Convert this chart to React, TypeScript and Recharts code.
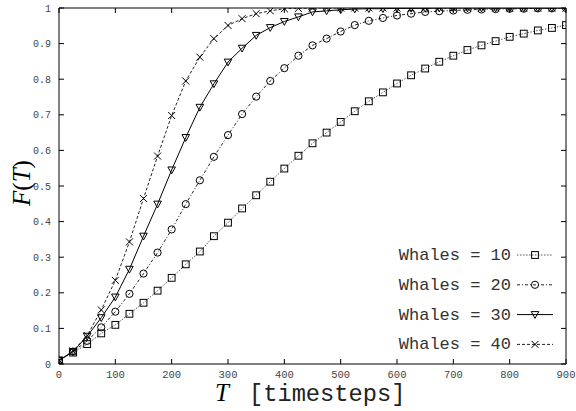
import { Legend, Line, LineChart, XAxis, YAxis } from "recharts";

const timesteps = [
  0, 25, 50, 75, 100, 125, 150, 175, 200, 225, 250, 275, 300, 325, 350, 375, 400, 425, 450,
  475, 500, 525, 550, 575, 600, 625, 650, 675, 700, 725, 750, 775, 800, 825, 850, 875, 900,
];

const whales10 = [
  0.01, 0.032, 0.056, 0.086, 0.11, 0.141, 0.172, 0.206, 0.242, 0.28, 0.316, 0.359, 0.397,
  0.437, 0.474, 0.512, 0.549, 0.585, 0.62, 0.65, 0.68, 0.71, 0.738, 0.763, 0.788, 0.811, 0.83,
  0.849, 0.866, 0.882, 0.895, 0.907, 0.919, 0.928, 0.937, 0.944, 0.952,
];

const whales20 = [
  0.01, 0.035, 0.065, 0.103, 0.147, 0.197, 0.254, 0.313, 0.378, 0.449, 0.516, 0.582, 0.643,
  0.702, 0.751, 0.795, 0.831, 0.866, 0.895, 0.914, 0.934, 0.952, 0.964, 0.972, 0.979, 0.984,
  0.989, 0.991, 0.993, 0.995, 0.996, 0.997, 0.998, 0.998, 0.999, 0.999, 1.0,
];

const whales30 = [
  0.01, 0.035, 0.078, 0.13, 0.188, 0.266, 0.359, 0.449, 0.545, 0.636, 0.721, 0.787, 0.848,
  0.887, 0.923, 0.945, 0.962, 0.975, 0.989, 0.992, 0.995, 0.997, 0.998, 0.998, 0.999, 0.999,
  0.999, 1.0, 1.0, 1.0, 1.0, 1.0, 1.0, 1.0, 1.0, 1.0, 1.0,
];

const whales40 = [
  0.01, 0.037, 0.08, 0.152, 0.235, 0.343, 0.465, 0.584, 0.698, 0.795, 0.862, 0.914, 0.951,
  0.97, 0.984, 0.992, 0.998, 0.999, 1.0, 1.0, 1.0, 1.0, 1.0, 1.0, 1.0, 1.0, 1.0, 1.0, 1.0,
  1.0, 1.0, 1.0, 1.0, 1.0, 1.0, 1.0, 1.0,
];

const xTicks = [0, 100, 200, 300, 400, 500, 600, 700, 800, 900];
const yTicks = [0, 0.1, 0.2, 0.3, 0.4, 0.5, 0.6, 0.7, 0.8, 0.9, 1];

const data = timesteps.map((t, i) => ({
  t,
  w10: whales10[i],
  w20: whales20[i],
  w30: whales30[i],
  w40: whales40[i],
}));

const series = [
  { key: "w10", name: "Whales = 10", shape: "square", stroke: "#555", dash: "1.5 1.5" },
  { key: "w20", name: "Whales = 20", shape: "circle", stroke: "#222", dash: "3 2 1 2" },
  { key: "w30", name: "Whales = 30", shape: "triangle", stroke: "#000", dash: undefined },
  { key: "w40", name: "Whales = 40", shape: "cross", stroke: "#222", dash: "3 2" },
];

const MONO = '"Liberation Mono", "DejaVu Sans Mono", monospace';
const SERIF = '"Liberation Serif", "DejaVu Serif", serif';
const TICK = 5;

function Marker({ shape, cx, cy }: { shape: string; cx: number; cy: number }) {
  const s = 3.4;
  if (shape === "square")
    return <rect x={cx - s} y={cy - s} width={s * 2} height={s * 2} fill="none" stroke="#000" />;
  if (shape === "circle") return <circle cx={cx} cy={cy} r={s + 0.2} fill="none" stroke="#000" />;
  if (shape === "triangle")
    return (
      <polygon
        points={`${cx - 3.8},${cy - 3} ${cx + 3.8},${cy - 3} ${cx},${cy + 3.8}`}
        fill="none"
        stroke="#000"
      />
    );
  return (
    <g stroke="#000">
      <line x1={cx - 3.5} y1={cy - 3.5} x2={cx + 3.5} y2={cy + 3.5} />
      <line x1={cx - 3.5} y1={cy + 3.5} x2={cx + 3.5} y2={cy - 3.5} />
    </g>
  );
}

const BottomTick = ({ x, y, payload }: any) => (
  <g>
    <line x1={x} y1={y} x2={x} y2={y - TICK} stroke="#000" />
    <text x={x} y={y + 14} textAnchor="middle" fontFamily={MONO} fontSize={10.5} fill="#444">
      {payload.value}
    </text>
  </g>
);

const TopTick = ({ x, y }: any) => <line x1={x} y1={y} x2={x} y2={y + TICK} stroke="#000" />;

const LeftTick = ({ x, y, payload }: any) => (
  <g>
    <line x1={x} y1={y} x2={x + TICK} y2={y} stroke="#000" />
    <text x={x - 8} y={y + 3.5} textAnchor="end" fontFamily={MONO} fontSize={10} fill="#444">
      {payload.value}
    </text>
  </g>
);

const RightTick = ({ x, y }: any) => <line x1={x} y1={y} x2={x - TICK} y2={y} stroke="#000" />;

function LegendBox() {
  return (
    <svg width={190} height={120}>
      {series.map((s, i) => {
        const y = 15 + i * 29.8;
        return (
          <g key={s.key}>
            <text
              x={131}
              y={y + 5}
              textAnchor="end"
              fontFamily={MONO}
              fontSize={17}
              fill="#333"
            >
              {s.name}
            </text>
            <line
              x1={137}
              y1={y}
              x2={173}
              y2={y}
              stroke={s.stroke}
              strokeDasharray={s.dash}
            />
            <Marker shape={s.shape} cx={155} cy={y} />
          </g>
        );
      })}
    </svg>
  );
}

export default function App() {
  return (
    <div style={{ position: "absolute", left: 0, top: 0, width: 576, height: 411, background: "#fff" }}>
      <LineChart
        width={576}
        height={411}
        data={data}
        margin={{ top: 7, right: 9, bottom: 46, left: 58 }}
      >
        <XAxis
          dataKey="t"
          type="number"
          domain={[0, 900]}
          ticks={xTicks}
          interval={0}
          height={1}
          tickSize={0}
          tickMargin={0}
          tickLine={false}
          axisLine={{ stroke: "#000" }}
          tick={BottomTick}
          allowDataOverflow
        />
        <XAxis
          xAxisId="top"
          orientation="top"
          dataKey="t"
          type="number"
          domain={[0, 900]}
          ticks={xTicks}
          interval={0}
          height={1}
          tickSize={0}
          tickMargin={0}
          tickLine={false}
          axisLine={{ stroke: "#000" }}
          tick={TopTick}
          allowDataOverflow
        />
        <YAxis
          type="number"
          domain={[0, 1]}
          ticks={yTicks}
          interval={0}
          width={1}
          tickSize={0}
          tickMargin={0}
          tickLine={false}
          axisLine={{ stroke: "#000" }}
          tick={LeftTick}
          allowDataOverflow
        />
        <YAxis
          yAxisId="right"
          orientation="right"
          type="number"
          domain={[0, 1]}
          ticks={yTicks}
          interval={0}
          width={1}
          tickSize={0}
          tickMargin={0}
          tickLine={false}
          axisLine={{ stroke: "#000" }}
          tick={RightTick}
          allowDataOverflow
        />
        {series.map((s) => (
          <Line
            key={s.key}
            dataKey={s.key}
            name={s.name}
            type="linear"
            stroke={s.stroke}
            strokeWidth={1}
            strokeDasharray={s.dash}
            dot={(p: any) => <Marker key={`${s.key}-${p.index}`} shape={s.shape} cx={p.cx} cy={p.cy} />}
            activeDot={false}
            isAnimationActive={false}
          />
        ))}
        <Legend
          layout="vertical"
          align="center"
          verticalAlign="middle"
          content={LegendBox}
          wrapperStyle={{ left: 380, top: 240, width: 190, height: 120 }}
        />
      </LineChart>
      <svg
        width={576}
        height={411}
        style={{ position: "absolute", left: 0, top: 0, pointerEvents: "none" }}
      >
        <text transform="translate(30,183) rotate(-90)" textAnchor="middle" fontFamily={SERIF} fontSize={25}>
          <tspan fontStyle="italic">F</tspan>
          <tspan>(</tspan>
          <tspan fontStyle="italic">T</tspan>
          <tspan>)</tspan>
        </text>
        <text x={215} y={401} fontFamily={SERIF} fontStyle="italic" fontSize={25}>
          T
        </text>
        <text x={249} y={401} fontFamily={MONO} fontSize={23.7} fill="#222">
          [timesteps]
        </text>
      </svg>
    </div>
  );
}
